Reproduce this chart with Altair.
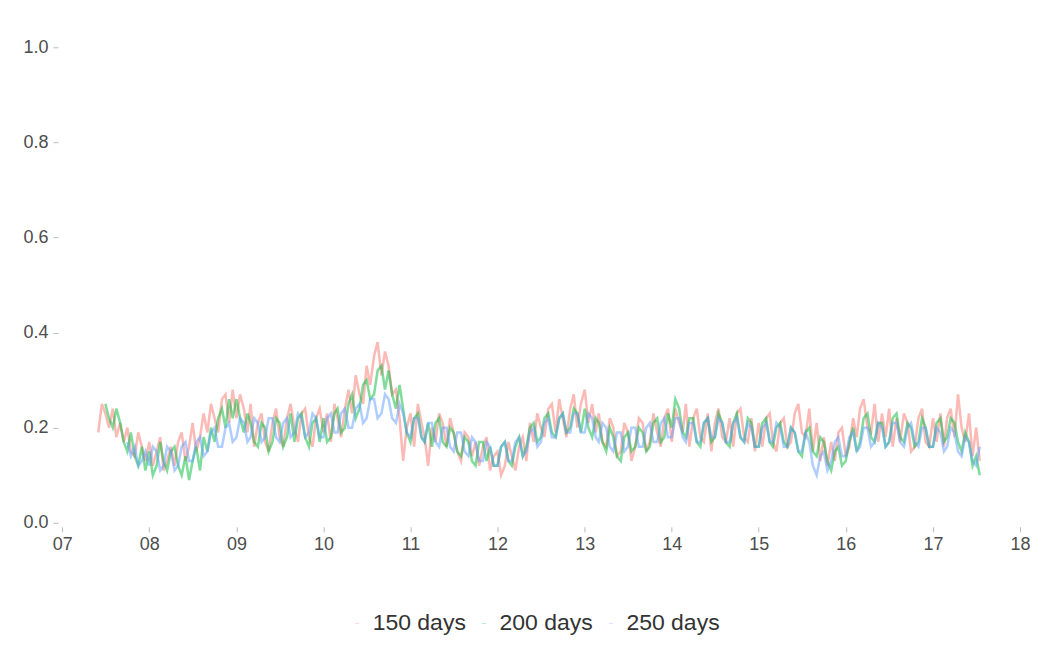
import altair as alt
import pandas as pd

series_names = ["150 days", "200 days", "250 days"]
series_colors = ["#F8766D", "#00BA38", "#619CFF"]
year_ticks = list(range(2007, 2019))
y_ticks = [0.0, 0.2, 0.4, 0.6, 0.8, 1.0]

# half-monthly sample dates, 2007-06-01 .. 2017-07-16
dates = []
for yr in range(2007, 2018):
    m0 = 6 if yr == 2007 else 1
    m1 = 7 if yr == 2017 else 12
    for mo in range(m0, m1 + 1):
        for d in (1, 16):
            dates.append(f"{yr}-{mo:02d}-{d:02d}")

N = None
v150 = [
    0.19, 0.25, 0.23, 0.20, 0.24, 0.18, 0.21, 0.17, 0.20, 0.15, 0.14, 0.19, 0.16, 0.13,
    0.17, 0.12, 0.15, 0.18, 0.11, 0.13, 0.16, 0.12, 0.17, 0.19, 0.13, 0.16, 0.21, 0.15, 0.18, 0.23, 0.19, 0.25, 0.22, 0.19, 0.26, 0.27, 0.21, 0.28,
    0.22, 0.27, 0.24, 0.19, 0.25, 0.16, 0.21, 0.23, 0.17, 0.15, 0.21, 0.24, 0.18, 0.16, 0.22, 0.25, 0.20, 0.17, 0.23, 0.24, 0.18, 0.16, 0.22, 0.24,
    0.19, 0.23, 0.17, 0.25, 0.22, 0.18, 0.24, 0.28, 0.23, 0.31, 0.27, 0.25, 0.33, 0.29, 0.35, 0.38, 0.31, 0.36, 0.33, 0.27, 0.28, 0.22, 0.13, 0.20,
    0.23, 0.16, 0.25, 0.21, 0.18, 0.12, 0.20, 0.17, 0.23, 0.21, 0.16, 0.22, 0.19, 0.15, 0.13, 0.19, 0.18, 0.14, 0.17, 0.12, 0.16, 0.18, 0.11, 0.14,
    0.15, 0.10, 0.12, 0.17, 0.14, 0.11, 0.16, 0.18, 0.13, 0.21, 0.17, 0.23, 0.20, 0.18, 0.24, 0.25, 0.19, 0.26, 0.22, 0.18, 0.24, 0.27, 0.20, 0.25,
    0.28, 0.21, 0.25, 0.19, 0.23, 0.17, 0.16, 0.22, 0.20, 0.14, 0.15, 0.21, 0.19, 0.13, 0.16, 0.22, 0.21, 0.15, 0.17, 0.23, 0.19, 0.16, 0.22, 0.24,
    0.17, 0.24, 0.21, 0.19, 0.25, 0.16, 0.22, 0.24, 0.18, 0.17, 0.23, 0.15, 0.21, 0.24, 0.18, 0.17, 0.22, 0.16, 0.23, 0.24, 0.18, 0.17, 0.22, 0.15,
    0.21, 0.16, 0.22, 0.23, 0.17, 0.15, 0.21, 0.22, 0.16, 0.17, 0.23, 0.25, 0.19, 0.18, 0.24, 0.15, 0.21, 0.13, 0.18, 0.12, 0.17, 0.13, 0.19, 0.20,
    0.14, 0.16, 0.22, 0.18, 0.24, 0.26, 0.20, 0.19, 0.25, 0.17, 0.23, 0.18, 0.24, 0.16, 0.22, 0.17, 0.23, 0.21, 0.15, 0.16, 0.22, 0.24, 0.17, 0.16,
    0.22, 0.17, 0.23, 0.16, 0.22, 0.24, 0.18, 0.27, 0.20, 0.17, 0.23, 0.14, 0.20, 0.13,
]
v200 = [
    N, N, 0.25, 0.22, 0.20, 0.24, 0.21, 0.17, 0.15, 0.19, 0.14, 0.12, 0.16, 0.11,
    0.15, 0.10, 0.12, 0.17, 0.13, 0.11, 0.15, 0.16, 0.12, 0.10, 0.14, 0.09, 0.13, 0.16, 0.11, 0.18, 0.15, 0.20, 0.17, 0.22, 0.24, 0.20, 0.26, 0.22,
    0.26, 0.22, 0.19, 0.23, 0.21, 0.17, 0.16, 0.21, 0.20, 0.15, 0.17, 0.22, 0.21, 0.16, 0.18, 0.23, 0.17, 0.22, 0.23, 0.18, 0.16, 0.21, 0.22, 0.17,
    0.22, 0.17, 0.18, 0.23, 0.24, 0.19, 0.20, 0.25, 0.27, 0.22, 0.24, 0.29, 0.30, 0.26, 0.27, 0.32, 0.33, 0.28, 0.32, 0.27, 0.24, 0.29, 0.24, 0.19,
    0.17, 0.22, 0.23, 0.18, 0.17, 0.21, 0.16, 0.21, 0.22, 0.17, 0.16, 0.20, 0.19, 0.15, 0.14, 0.18, 0.17, 0.13, 0.12, 0.17, 0.17, 0.13, 0.16, 0.12,
    0.12, 0.16, 0.17, 0.13, 0.12, 0.16, 0.18, 0.14, 0.16, 0.20, 0.21, 0.17, 0.18, 0.22, 0.23, 0.19, 0.18, 0.22, 0.23, 0.19, 0.20, 0.24, 0.23, 0.19,
    0.24, 0.20, 0.18, 0.22, 0.21, 0.17, 0.15, 0.20, 0.18, 0.14, 0.13, 0.18, 0.19, 0.15, 0.16, 0.20, 0.19, 0.15, 0.16, 0.21, 0.22, 0.17, 0.18, 0.23,
    0.20, 0.26, 0.24, 0.19, 0.18, 0.22, 0.22, 0.17, 0.16, 0.21, 0.22, 0.17, 0.18, 0.23, 0.21, 0.17, 0.16, 0.21, 0.23, 0.18, 0.17, 0.22, 0.21, 0.16,
    0.16, 0.21, 0.22, 0.17, 0.16, 0.20, 0.21, 0.17, 0.16, 0.20, 0.19, 0.15, 0.14, 0.19, 0.20, 0.15, 0.14, 0.18, 0.17, 0.13, 0.11, 0.15, 0.16, 0.12,
    0.13, 0.17, 0.20, 0.15, 0.17, 0.22, 0.23, 0.18, 0.17, 0.21, 0.21, 0.16, 0.17, 0.22, 0.23, 0.18, 0.17, 0.21, 0.20, 0.16, 0.17, 0.22, 0.20, 0.16,
    0.16, 0.21, 0.22, 0.17, 0.18, 0.22, 0.21, 0.17, 0.15, 0.19, 0.17, 0.12, 0.14, 0.10,
]
v250 = [
    N, N, N, N, N, N, N, N, 0.17, 0.14, 0.16, 0.12, 0.13, 0.15,
    0.12, 0.16, 0.15, 0.11, 0.12, 0.16, 0.15, 0.11, 0.12, 0.16, 0.17, 0.13, 0.13, 0.17, 0.18, 0.14, 0.15, 0.19, 0.20, 0.16, 0.16, 0.20, 0.21, 0.17,
    0.18, 0.22, 0.21, 0.17, 0.18, 0.22, 0.21, 0.17, 0.18, 0.22, 0.22, 0.18, 0.17, 0.21, 0.22, 0.18, 0.19, 0.23, 0.22, 0.18, 0.19, 0.23, 0.22, 0.18,
    0.18, 0.22, 0.23, 0.19, 0.19, 0.23, 0.24, 0.20, 0.20, 0.24, 0.25, 0.21, 0.22, 0.26, 0.26, 0.22, 0.23, 0.27, 0.26, 0.22, 0.21, 0.25, 0.23, 0.19,
    0.18, 0.22, 0.22, 0.18, 0.17, 0.21, 0.21, 0.17, 0.16, 0.20, 0.20, 0.16, 0.15, 0.19, 0.19, 0.15, 0.14, 0.18, 0.17, 0.13, 0.13, 0.17, 0.16, 0.12,
    0.12, 0.16, 0.17, 0.13, 0.13, 0.17, 0.18, 0.14, 0.15, 0.19, 0.20, 0.16, 0.17, 0.21, 0.22, 0.18, 0.18, 0.22, 0.23, 0.19, 0.19, 0.23, 0.23, 0.19,
    0.19, 0.23, 0.22, 0.18, 0.17, 0.21, 0.20, 0.16, 0.15, 0.19, 0.19, 0.15, 0.16, 0.20, 0.20, 0.16, 0.16, 0.20, 0.21, 0.17, 0.17, 0.21, 0.22, 0.18,
    0.18, 0.22, 0.22, 0.18, 0.17, 0.21, 0.21, 0.17, 0.17, 0.21, 0.22, 0.18, 0.18, 0.22, 0.21, 0.17, 0.17, 0.21, 0.22, 0.18, 0.17, 0.21, 0.20, 0.16,
    0.16, 0.20, 0.21, 0.17, 0.17, 0.21, 0.20, 0.16, 0.16, 0.20, 0.19, 0.15, 0.15, 0.19, 0.17, 0.12, 0.10, 0.14, 0.15, 0.11, 0.13, 0.17, 0.18, 0.14,
    0.14, 0.18, 0.19, 0.15, 0.16, 0.20, 0.20, 0.16, 0.17, 0.21, 0.20, 0.16, 0.17, 0.21, 0.21, 0.17, 0.16, 0.20, 0.21, 0.17, 0.16, 0.20, 0.20, 0.16,
    0.16, 0.20, 0.19, 0.15, 0.16, 0.20, 0.19, 0.15, 0.14, 0.18, 0.17, 0.13, 0.12, 0.16,
]

rows = []
for name, vals in zip(series_names, [v150, v200, v250]):
    for d, v in zip(dates, vals):
        if v is not None:
            rows.append({"date": d, "value": v, "series": name})
df = pd.DataFrame(rows)

font = "Liberation Sans"
label_color = "#4d4d4d"

chart = (
    alt.Chart(df)
    .mark_line(strokeWidth=2.5, opacity=0.5)
    .encode(
        x=alt.X(
            "date:T",
            title=None,
            scale=alt.Scale(domain=["2006-12-14", "2018-01-01"], nice=False),
            axis=alt.Axis(
                values=[alt.DateTime(year=y, month=1, date=1) for y in year_ticks],
                format="%y",
                domain=False,
                grid=False,
                tickSize=5,
                tickColor="#bbbbbb",
                labelPadding=4,
                labelFontSize=18,
                labelColor=label_color,
                labelFont=font,
                labelFlush=False,
                labelOverlap=False,
            ),
        ),
        y=alt.Y(
            "value:Q",
            title=None,
            scale=alt.Scale(domain=[-0.0084, 1.05], nice=False, zero=False),
            axis=alt.Axis(
                values=y_ticks,
                format=".1f",
                domain=False,
                grid=False,
                tickSize=5,
                tickColor="#bbbbbb",
                labelPadding=5,
                labelFontSize=18,
                labelColor=label_color,
                labelFont=font,
            ),
        ),
        color=alt.Color(
            "series:N",
            scale=alt.Scale(domain=series_names, range=series_colors),
            legend=alt.Legend(
                orient="none",
                legendX=288,
                legendY=589,
                direction="horizontal",
                title=None,
                labelFontSize=23,
                labelFont=font,
                labelColor="#333333",
                symbolType="stroke",
                symbolSize=20,
                symbolStrokeWidth=1,
                symbolOpacity=0.25,
                columnPadding=6,
                labelOffset=4,
            ),
        ),
    )
    .properties(
        width=963,
        height=504,
        autosize=alt.AutoSizeParams(type="none"),
        padding={"left": 50, "top": 15, "right": 10, "bottom": 120},
    )
    .configure_view(stroke=None)
)

chart.save("out.html", embed_options={"renderer": "svg", "actions": False})
